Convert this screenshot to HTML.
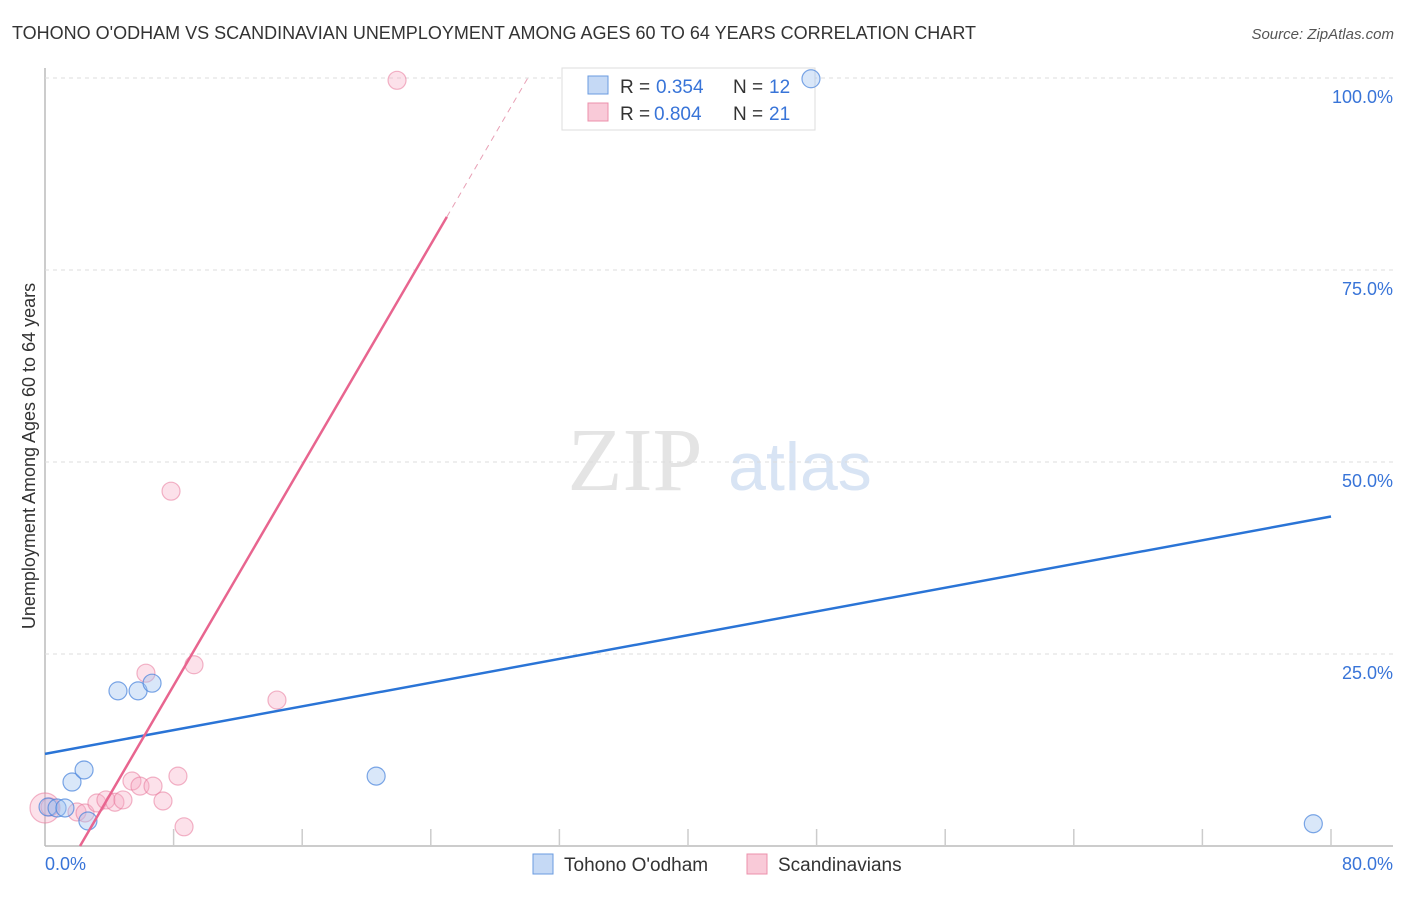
<!DOCTYPE html>
<html><head><meta charset="utf-8"><style>
body{margin:0;background:#fff;font-family:"Liberation Sans",sans-serif}
</style></head><body>
<svg id="c" width="1406" height="892" xmlns="http://www.w3.org/2000/svg" font-family="Liberation Sans, sans-serif">
<text x="12" y="39" font-size="18" fill="#333">TOHONO O'ODHAM VS SCANDINAVIAN UNEMPLOYMENT AMONG AGES 60 TO 64 YEARS CORRELATION CHART</text>
<text x="1394" y="39" font-size="15" fill="#555" font-style="italic" text-anchor="end">Source: ZipAtlas.com</text>
<text x="35" y="456" font-size="18" fill="#333" text-anchor="middle" transform="rotate(-90 35 456)">Unemployment Among Ages 60 to 64 years</text>
<text x="635" y="490" font-size="90" fill="#e4e4e4" font-family="Liberation Serif, serif" text-anchor="middle">ZIP</text>
<text x="800" y="490" font-size="68" fill="#d8e4f4" text-anchor="middle">atlas</text>
<g id="grid"></g>
<g>
<rect x="562" y="68" width="253" height="62" fill="#fff" stroke="#ddd"/>
<rect x="588" y="76" width="20" height="18" fill="#c5d9f5" stroke="#6a9be0"/>
<rect x="588" y="103" width="20" height="18" fill="#f9cad8" stroke="#ec90ab"/>
<text x="620" y="93" font-size="19" fill="#333">R =</text>
<text x="656" y="93" font-size="19" fill="#3874d8">0.354</text>
<text x="733" y="93" font-size="19" fill="#333">N =</text>
<text x="769" y="93" font-size="19" fill="#3874d8">12</text>
<text x="620" y="120" font-size="19" fill="#333">R =</text>
<text x="654" y="120" font-size="19" fill="#3874d8">0.804</text>
<text x="733" y="120" font-size="19" fill="#333">N =</text>
<text x="769" y="120" font-size="19" fill="#3874d8">21</text>
</g>
<g id="marks"></g>
<g>
<rect x="533" y="854" width="20" height="20" fill="#c5d9f5" stroke="#6a9be0"/>
<text x="564" y="871" font-size="19" fill="#333">Tohono O'odham</text>
<rect x="747" y="854" width="20" height="20" fill="#f9cad8" stroke="#ec90ab"/>
<text x="778" y="871" font-size="19" fill="#333">Scandinavians</text>
</g>
</svg>
<script>
const blueX=[0.19,0.75,1.24,2.67,1.68,2.43,4.54,5.79,6.66,20.6,47.65,78.9];
const blueY=[5.08,4.95,4.95,3.26,8.33,9.9,20.2,20.2,21.2,9.1,99.9,2.9];
const pinkX=[0,0.31,1.99,2.49,3.23,3.79,4.35,4.85,5.41,5.91,6.72,7.34,8.27,8.65,6.28,9.27,14.43,7.84,21.9];
const pinkY=[4.95,5.08,4.43,4.3,5.6,6.0,5.7,6.0,8.46,7.8,7.8,5.86,9.1,2.5,22.5,23.6,19.0,46.2,99.7];
const yTicks=[25,50,75,100];
const yTickLabels=["25.0%","50.0%","75.0%","100.0%"];
const xLabels=["0.0%","80.0%"];
const blueTrend=[12.0,42.9];
const pinkTrend=[2.18,3.59];
const X=v=>45+v/80*1286, Y=v=>846-v*7.68;
const NS="http://www.w3.org/2000/svg";
function mk(t,a,p){const e=document.createElementNS(NS,t);for(const k in a)e.setAttribute(k,a[k]);p.appendChild(e);return e;}
const g=document.getElementById('grid'),m=document.getElementById('marks');
let ax=mk('line',{x1:45,y1:68,x2:45,y2:846,stroke:'#bbb','stroke-width':1.5},g);


let bx=mk('line',{x1:45,y1:846,x2:1393,y2:846,stroke:'#bbb','stroke-width':1.5},g);


for(let i=1;i<=10;i++){let t=mk('line',{x1:X(i*8),x2:X(i*8),y1:829,y2:846,stroke:'#ccc','stroke-width':1.5},g);

}
yTicks.forEach((v,i)=>{let l=mk('line',{x1:45,x2:1393,y1:Y(v),y2:Y(v),stroke:'#ddd','stroke-dasharray':'4 4'},g);


let t=mk('text',{x:1393,y:Y(v)+25,'font-size':18,fill:'#3874d8','text-anchor':'end'},g);t.textContent=yTickLabels[i];

});
let x0=mk('text',{x:45,y:870,'font-size':18,fill:'#3874d8'},g);x0.textContent=xLabels[0];


let x1=mk('text',{x:1393,y:870,'font-size':18,fill:'#3874d8','text-anchor':'end'},g);x1.textContent=xLabels[1];


pinkX.forEach((v,i)=>{let c=mk('circle',{cx:X(v),cy:Y(pinkY[i]),r:i==0?15:9,fill:'rgba(246,170,194,0.35)',stroke:'rgba(232,120,155,0.55)','stroke-width':1.2},m);

});
blueX.forEach((v,i)=>{let c=mk('circle',{cx:X(v),cy:Y(blueY[i]),r:9,fill:'rgba(160,196,240,0.4)',stroke:'rgba(70,130,220,0.7)','stroke-width':1.2},m);

});
let bl=mk('line',{x1:X(0),y1:Y(blueTrend[0]),x2:X(80),y2:Y(blueTrend[1]),stroke:'#2a74d6','stroke-width':2.5},m);


const pf=v=>(v-pinkTrend[0])*pinkTrend[1];
let pl=mk('line',{x1:X(pinkTrend[0]),y1:Y(0),x2:X(25),y2:Y(pf(25)),stroke:'#e8658f','stroke-width':2.5},m);


const xe=pinkTrend[0]+100/pinkTrend[1];
let pd=mk('line',{x1:X(25),y1:Y(pf(25)),x2:X(xe),y2:Y(100),stroke:'#e8a0b5','stroke-width':1,'stroke-dasharray':'6 5'},m);


</script>
</body></html>
